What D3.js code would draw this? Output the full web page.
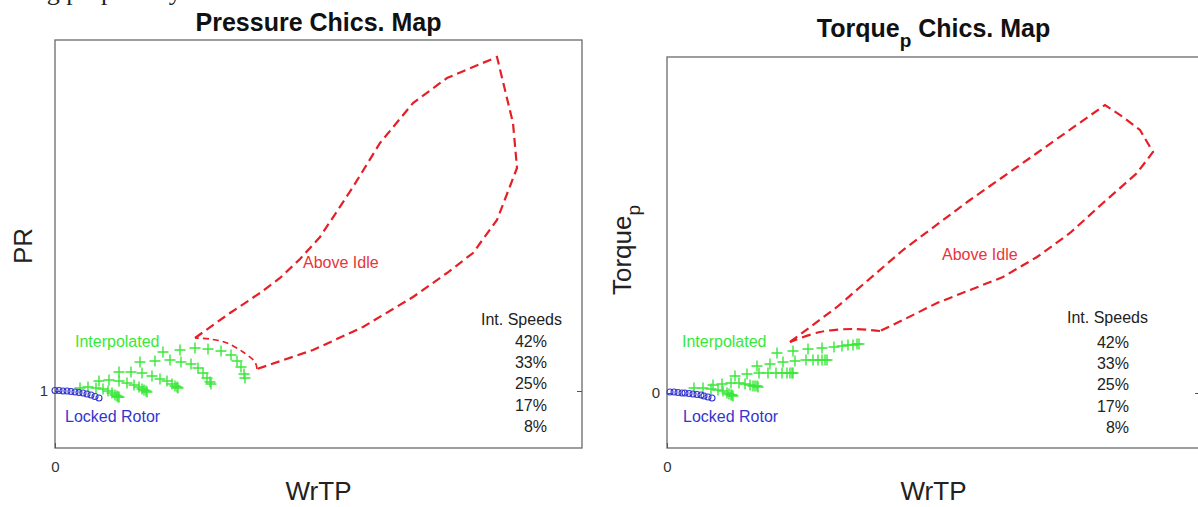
<!DOCTYPE html>
<html>
<head>
<meta charset="utf-8">
<script src="https://cdn.jsdelivr.net/npm/d3@7"></script>
<style>
  body { margin: 0; background: #fff; }
  svg { display: block; font-family: "Liberation Sans", Arial, sans-serif; }
  .axis text { font-size: 15px; fill: #333; }
  .axis path { display: none; }
  .axis line { stroke: #555; }
</style>
</head>
<body>
<svg id="chart" width="1198" height="507"></svg>
<script>
// ---- data ----
const speeds = ['42%', '33%', '25%', '17%', '8%'];

// Pressure map: WrTP vs PR
const prLockedX = [0, 0.04, 0.08, 0.12, 0.16, 0.20, 0.24, 0.28, 0.32, 0.36, 0.40, 0.44];
const prLockedY = [1.005, 1.005, 1.0, 1.0, 0.995, 0.99, 0.985, 0.98, 0.97, 0.96, 0.945, 0.93];

// one row per speed, 8% .. 42%
const prInterpX = [
    [0.25, 0.33, 0.41, 0.48, 0.53, 0.57, 0.60, 0.62, 0.63, 0.64],
    [0.44, 0.54, 0.64, 0.72, 0.79, 0.84, 0.87, 0.89, 0.91, 0.92],
    [0.64, 0.76, 0.87, 0.97, 1.05, 1.12, 1.17, 1.20, 1.22, 1.23],
    [0.85, 1.00, 1.15, 1.26, 1.36, 1.43, 1.48, 1.52, 1.55, 1.56],
    [1.08, 1.25, 1.40, 1.53, 1.66, 1.76, 1.82, 1.86, 1.89, 1.90]
];
const prInterpY = [
    [1.03, 1.04, 1.03, 1.02, 1.00, 0.98, 0.96, 0.95, 0.94, 0.94],
    [1.10, 1.11, 1.10, 1.08, 1.06, 1.04, 1.02, 1.01, 1.00, 0.99],
    [1.19, 1.19, 1.18, 1.15, 1.12, 1.10, 1.07, 1.05, 1.04, 1.03],
    [1.29, 1.30, 1.31, 1.29, 1.27, 1.23, 1.18, 1.13, 1.09, 1.07],
    [1.39, 1.41, 1.43, 1.42, 1.40, 1.36, 1.30, 1.24, 1.17, 1.13]
];

const prIdleX = [1.40, 1.75, 2.05, 2.25, 2.45, 2.65, 2.98, 3.25, 3.58, 3.92, 4.42, 4.58, 4.62,
                 4.42, 4.18, 3.92, 3.58, 3.08, 2.58, 2.02];
const prIdleY = [1.53, 1.78, 1.98, 2.13, 2.32, 2.54, 3.04, 3.48, 3.88, 4.13, 4.34, 3.68, 3.23,
                 2.71, 2.38, 2.18, 1.94, 1.64, 1.41, 1.22];
const prArcX = [2.02, 2.00, 1.88, 1.72, 1.55, 1.40];
const prArcY = [1.22, 1.29, 1.39, 1.48, 1.52, 1.53];

// Torque map: WrTP vs Torque_p
const tqLockedX = [0.03, 0.07, 0.11, 0.15, 0.18, 0.22, 0.26, 0.30, 0.34, 0.37, 0.41, 0.45];
const tqLockedY = [0.01, 0.01, 0.005, 0, 0, -0.005, -0.01, -0.015, -0.02, -0.03, -0.04, -0.05];

const tqInterpX = [
    [0.27, 0.36, 0.44, 0.51, 0.56, 0.60, 0.62, 0.64, 0.65, 0.66],
    [0.46, 0.55, 0.64, 0.72, 0.78, 0.83, 0.86, 0.88, 0.90, 0.91],
    [0.68, 0.80, 0.92, 1.01, 1.09, 1.15, 1.20, 1.23, 1.25, 1.26],
    [0.90, 1.03, 1.16, 1.28, 1.39, 1.46, 1.51, 1.55, 1.58, 1.60],
    [1.10, 1.26, 1.41, 1.55, 1.67, 1.75, 1.81, 1.86, 1.90, 1.92]
];
const tqInterpY = [
    [0.05, 0.05, 0.04, 0.03, 0.02, 0.00, -0.01, -0.02, -0.02, -0.03],
    [0.08, 0.09, 0.10, 0.10, 0.09, 0.08, 0.07, 0.07, 0.07, 0.06],
    [0.17, 0.19, 0.20, 0.20, 0.20, 0.20, 0.20, 0.20, 0.20, 0.20],
    [0.27, 0.29, 0.31, 0.32, 0.33, 0.33, 0.33, 0.33, 0.33, 0.33],
    [0.40, 0.42, 0.44, 0.45, 0.46, 0.47, 0.48, 0.48, 0.49, 0.49]
];

const tqIdleX = [1.23, 1.70, 2.36, 3.03, 3.70, 4.38, 4.56, 4.73, 4.83, 4.86,
                 4.70, 4.36, 4.03, 3.70, 3.36, 3.03, 2.70, 2.36, 2.13];
const tqIdleY = [0.51, 0.86, 1.43, 1.93, 2.40, 2.88, 2.76, 2.63, 2.46, 2.41,
                 2.20, 1.90, 1.60, 1.36, 1.16, 1.03, 0.90, 0.73, 0.62];
const tqArcX = [2.13, 1.86, 1.53, 1.23];
const tqArcY = [0.62, 0.64, 0.61, 0.51];

const GREEN = '#38e838', BLUE = '#3535cf', RED = '#e61e25';

const svg = d3.select('#chart');

// cut-off line of text above the figure (only its lower edge shows)
svg.append('text')
    .attr('x', -50).attr('y', 0)
    .style('font-family', '"Liberation Serif", "DejaVu Serif", serif')
    .style('font-size', '26px').attr('fill', '#222')
    .text('containing proprietary information');

function zip(xs, ys) { return xs.map((v, i) => [v, ys[i]]); }

function drawPanel(p) {
    const w = p.right - p.left, h = p.bottom - p.top;
    const g = svg.append('g').attr('transform', `translate(${p.left},${p.top})`);

    const x = d3.scaleLinear().domain(p.xDomain).range([0, w]);
    const y = d3.scaleLinear().domain(p.yDomain).range([h, 0]);

    // frame
    g.append('rect')
        .attr('x', 0).attr('y', 0).attr('width', w).attr('height', h)
        .attr('fill', 'none').attr('stroke', '#6a6a6a').attr('stroke-width', 1.3);

    // ticks
    g.append('g').attr('class', 'axis')
        .call(d3.axisLeft(y).tickValues([p.yTick]).tickSize(-5).tickSizeOuter(0).tickPadding(7)
            .tickFormat(d3.format('d')));
    g.append('g').attr('class', 'axis')
        .attr('transform', `translate(${w},0)`)
        .call(d3.axisRight(y).tickValues([p.yTick]).tickSize(-5).tickSizeOuter(0).tickFormat(''));
    g.append('g').attr('class', 'axis')
        .attr('transform', `translate(0,${h})`)
        .call(d3.axisBottom(x).tickValues([0]).tickSize(-5).tickSizeOuter(0).tickPadding(13)
            .tickFormat(d3.format('d')));

    const line = d3.line().x(d => x(d[0])).y(d => y(d[1]));
    const smooth = d3.line().x(d => x(d[0])).y(d => y(d[1])).curve(d3.curveCatmullRom.alpha(0.5));

    // above idle region
    g.append('path')
        .attr('d', line(zip(p.idleX, p.idleY)))
        .attr('fill', 'none').attr('stroke', RED).attr('stroke-width', 2.2)
        .attr('stroke-dasharray', '9,5');
    g.append('path')
        .attr('d', smooth(zip(p.arcX, p.arcY)))
        .attr('fill', 'none').attr('stroke', RED).attr('stroke-width', p.arcWidth)
        .attr('stroke-dasharray', p.arcDash);

    // interpolated speed lines
    p.interpX.forEach((xs, k) => {
        g.append('g').selectAll('path')
            .data(zip(xs, p.interpY[k]))
            .join('path')
            .attr('transform', d => `translate(${x(d[0])},${y(d[1])})`)
            .attr('d', 'M-5.5,0H5.5M0,-5.5V5.5')
            .attr('stroke', GREEN).attr('stroke-width', 1.4);
    });

    // locked rotor
    g.append('g').selectAll('circle')
        .data(zip(p.lockedX, p.lockedY))
        .join('circle')
        .attr('cx', d => x(d[0])).attr('cy', d => y(d[1]))
        .attr('r', 3)
        .attr('fill', 'none').attr('stroke', BLUE).attr('stroke-width', 1.1);

    // labels inside the plot (absolute page coordinates)
    const lab = (t, px, py, col, anchor) => svg.append('text')
        .attr('x', px).attr('y', py).attr('fill', col)
        .attr('text-anchor', anchor || 'start')
        .style('font-size', '16px').text(t);
    lab('Interpolated', p.interpLab[0], p.interpLab[1], GREEN);
    lab('Locked Rotor', p.lockedLab[0], p.lockedLab[1], BLUE);
    lab('Above Idle', p.idleLab[0], p.idleLab[1], '#e8353a');
    lab('Int. Speeds', p.legend[0], p.legend[1], '#222');
    speeds.forEach((s, i) => lab(s, p.legend[2], p.legend[3] + i * 21.2, '#222', 'end'));

    // title and axis labels
    const cx = (p.left + p.right) / 2;
    const title = svg.append('text')
        .attr('x', cx).attr('y', p.titleY).attr('text-anchor', 'middle')
        .style('font-size', '25px').style('font-weight', 'bold').attr('fill', '#111');
    title.append('tspan').text(p.titleName);
    if (p.ySub) {
        title.append('tspan').attr('dy', 10).style('font-size', '19px').text(p.ySub);
        title.append('tspan').attr('dy', -10).text(' Chics. Map');
    } else {
        title.append('tspan').text(' Chics. Map');
    }

    svg.append('text')
        .attr('x', cx).attr('y', 500).attr('text-anchor', 'middle')
        .style('font-size', '26px').attr('fill', '#222').text('WrTP');

    const yl = svg.append('text')
        .attr('transform', `translate(${p.yLabX},${p.yLabY}) rotate(-90)`)
        .attr('text-anchor', 'middle')
        .style('font-size', '26px').attr('fill', '#222');
    yl.append('tspan').text(p.yName);
    if (p.ySub) yl.append('tspan').attr('dy', 9).style('font-size', '19px').text(p.ySub);
}

drawPanel({
    left: 55, right: 582, top: 40, bottom: 448,
    xDomain: [0, 5.27], yDomain: [0.43, 4.51], yTick: 1,
    lockedX: prLockedX, lockedY: prLockedY,
    interpX: prInterpX, interpY: prInterpY,
    idleX: prIdleX, idleY: prIdleY, arcX: prArcX, arcY: prArcY,
    arcWidth: 1.6, arcDash: '6,4',
    interpLab: [75, 347], lockedLab: [65, 422], idleLab: [303, 268],
    legend: [481, 325, 547, 347],
    titleY: 31, titleName: 'Pressure', yName: 'PR', ySub: null, yLabX: 32, yLabY: 246
});

drawPanel({
    left: 667, right: 1200, top: 57, bottom: 448,
    xDomain: [0, 5.33], yDomain: [-0.55, 3.36], yTick: 0,
    lockedX: tqLockedX, lockedY: tqLockedY,
    interpX: tqInterpX, interpY: tqInterpY,
    idleX: tqIdleX, idleY: tqIdleY, arcX: tqArcX, arcY: tqArcY,
    arcWidth: 2.2, arcDash: '9,5',
    interpLab: [682, 347], lockedLab: [683, 422], idleLab: [942, 260],
    legend: [1067, 323, 1129, 348],
    titleY: 37, titleName: 'Torque', yName: 'Torque', ySub: 'p', yLabX: 631, yLabY: 250
});
</script>
</body>
</html>
